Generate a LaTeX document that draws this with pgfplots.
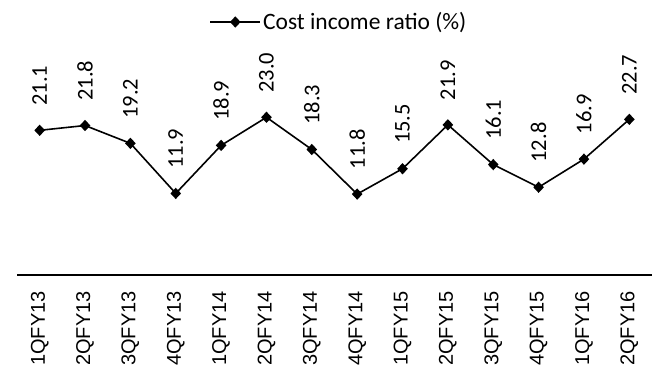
\documentclass[border=0pt]{standalone}
\usepackage{fontspec}
\setmainfont{Carlito}
\newfontfamily\arialf{Liberation Sans}
\usepackage{pgfplots}
\pgfplotsset{compat=1.18}
\begin{document}
\begin{tikzpicture}
\useasboundingbox (-17pt,-98pt) rectangle (636pt,275pt);
\begin{axis}[
  anchor=south west,
  scale only axis, width=635pt, height=240pt,
  xmin=-0.5, xmax=13.5, ymin=0, ymax=35,
  clip=false,
  axis x line*=bottom, axis y line=none,
  x axis line style={line width=1.5pt, -},
  xtick={0,...,13},
  xticklabels={1QFY13,2QFY13,3QFY13,4QFY13,1QFY14,2QFY14,3QFY14,4QFY14,1QFY15,2QFY15,3QFY15,4QFY15,1QFY16,2QFY16},
  major tick length=0pt,
  xticklabel shift=16pt,
  xticklabel style={font=\arialf\fontsize{20}{24}\selectfont, rotate=90, anchor=east, inner sep=0pt},
  ytick=\empty,
  legend style={draw=none, fill=none, at={(axis description cs:0.507,1)}, anchor=center, yshift=13pt,
    font=\fontsize{23.5}{28}\selectfont, inner sep=0pt},
  legend image code/.code={\draw[#1, mark repeat=2, mark phase=2] plot coordinates {(0pt,0pt) (25pt,0pt) (50pt,0pt)};},
  nodes near coords,
  point meta=explicit symbolic,
  every node near coord/.append style={yshift=24pt, rotate=90, anchor=west, inner sep=0pt, font=\fontsize{22.5}{27}\selectfont, black},
]
\addplot[black, line width=1.6pt, mark=diamond*, mark size=4.5pt, mark options={solid, xscale=1.25}] table[meta=lab] {
x y lab
0 21.1 21.1
1 21.8 21.8
2 19.2 19.2
3 11.9 11.9
4 18.9 18.9
5 23.0 23.0
6 18.3 18.3
7 11.8 11.8
8 15.5 15.5
9 21.9 21.9
10 16.1 16.1
11 12.8 12.8
12 16.9 16.9
13 22.7 22.7
};
\addlegendentry{Cost income ratio (\%)}
\end{axis}
\end{tikzpicture}
\end{document}
